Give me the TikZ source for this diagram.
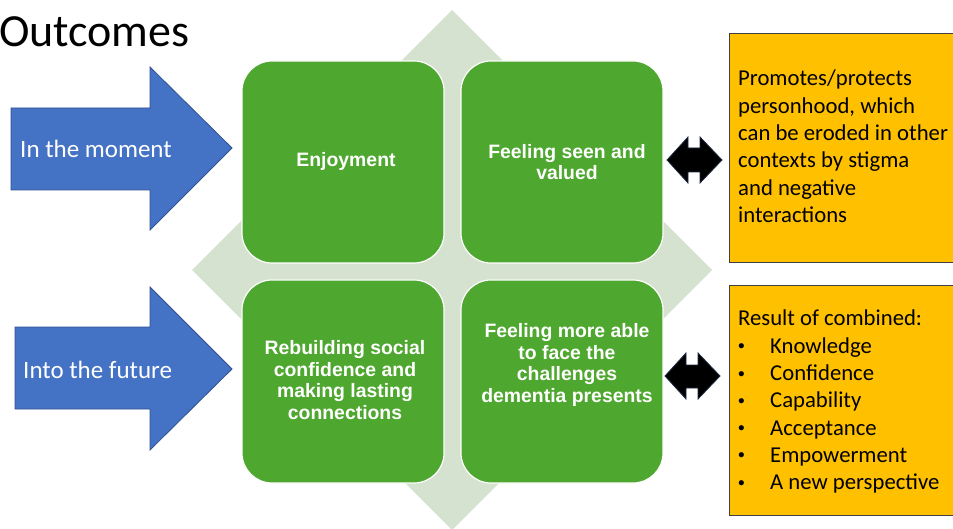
\documentclass[tikz,border=0pt]{standalone}
\usepackage{fontspec}
\setmainfont{Carlito}
\newfontfamily\boxfont{Liberation Sans}
\definecolor{tilegreen}{HTML}{4EA72E}
\definecolor{diamondgreen}{HTML}{D5E2CF}
\definecolor{arrowblue}{HTML}{4472C4}
\definecolor{arrowedge}{HTML}{2F528F}
\definecolor{noteorange}{HTML}{FFC000}
\definecolor{noteedge}{HTML}{404040}
\definecolor{linkedge}{HTML}{1F2A44}
% small list bullet followed by the hanging indent
\newcommand{\listdot}{\makebox[32pt][l]{\raisebox{0.5pt}{\boxfont\fontsize{19}{19}\selectfont•}}}
\begin{document}
\begin{tikzpicture}[x=1pt,y=-1pt,
  tile/.style={fill=tilegreen,draw=white,line width=1.2pt,rounded corners=30pt},
  tiletext/.style={text=white,align=center,inner sep=0pt,
    font=\boxfont\bfseries\fontsize{19.4}{21.4}\selectfont},
  bigarrow/.style={fill=arrowblue,draw=arrowedge,line width=0.8pt,line join=miter},
  arrowtext/.style={text=white,anchor=west,inner sep=0pt,font=\fontsize{25}{30}\selectfont},
  link/.style={fill=black,draw=linkedge,line width=0.8pt,line join=miter},
  note/.style={fill=noteorange,draw=noteedge,line width=0.8pt},
  notetext/.style={anchor=base west,inner sep=0pt,font=\fontsize{22.7}{27.3}\selectfont}]
\useasboundingbox (0,0) rectangle (953,529);
\clip (0,0) rectangle (953,529);

% backdrop diamond
\fill[diamondgreen] (452,10) -- (712,270) -- (452,530) -- (192,270) -- cycle;

% title
\node[anchor=base west,inner sep=0pt,font=\fontsize{46}{55}\selectfont] (title) at (-1,47) {Outcomes};

% block arrows on the left
\draw[bigarrow] (11,108) -- (150,108) -- (150,67) -- (232,148) -- (150,230) -- (150,190) -- (11,190) -- cycle;
\node[arrowtext] (moment) at (20,149) {In the moment};
\draw[bigarrow] (15,327) -- (150,327) -- (150,287) -- (232,369) -- (150,450) -- (150,409) -- (15,409) -- cycle;
\node[arrowtext] (future) at (23,370) {Into the future};

% four outcome tiles
\draw[tile] (242,61) rectangle (444,263);
\draw[tile] (461,61) rectangle (663,263);
\draw[tile] (242,280) rectangle (444,483);
\draw[tile] (461,280) rectangle (663,483);
\node[tiletext] (enjoy) at (346,161) {Enjoyment};
\node[tiletext] (seen) at (567,162) {Feeling seen and\\valued};
\node[tiletext] (social) at (345,380) {Rebuilding social\\confidence and\\making lasting\\connections};
\node[tiletext] (able) at (567,365) {Feeling more able\\to face the\\challenges\\dementia presents};

% two-way links
\draw[link] (667,160) -- (688,137) -- (688,148) -- (700,148) -- (700,137) -- (722,160)
  -- (700,183) -- (700,172) -- (688,172) -- (688,183) -- cycle;
\draw[link] (665,376) -- (686,353) -- (686,365) -- (698,365) -- (698,353) -- (720,376)
  -- (698,399) -- (698,388) -- (686,388) -- (686,399) -- cycle;

% explanatory notes
\draw[note] (729,33) rectangle (970,262);
\node[notetext] (personhood) at (738,86) {\parbox[t]{230pt}{\raggedright
  Promotes/protects\\personhood, which\\can be eroded in other\\contexts by stigma\\and negative\\interactions}};
\draw[note] (729,285) rectangle (970,515);
\node[notetext] (combined) at (738,326) {\parbox[t]{230pt}{\raggedright
  Result of combined:\\
  \listdot Knowledge\\
  \listdot Confidence\\
  \listdot Capability\\
  \listdot Acceptance\\
  \listdot Empowerment\\
  \listdot A new perspective}};
\end{tikzpicture}
\end{document}
